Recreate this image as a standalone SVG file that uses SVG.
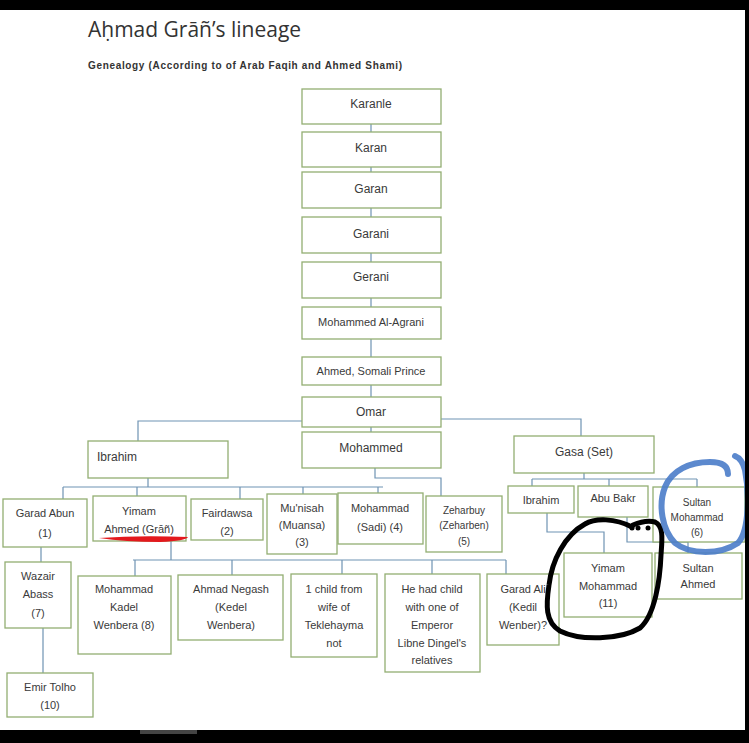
<svg xmlns="http://www.w3.org/2000/svg" width="749" height="743" viewBox="0 0 749 743">
<style>
.b{fill:#fff;stroke:#93ae72;stroke-width:1.3}
.t{font-family:"Liberation Sans",Arial,sans-serif;font-size:11px;fill:#3a3a3a;text-anchor:middle}
.c{font-size:12px}
.s{font-size:10px}
.l{fill:none;stroke:#6f93b3;stroke-width:1.2}
</style>
<rect x="0" y="0" width="749" height="743" fill="#fff"/>
<text x="88" y="37" font-family="Open Sans, Liberation Sans, sans-serif" font-size="21" fill="#333">Aḥmad Grāñ’s lineage</text>
<text x="88" y="69" font-family="Liberation Sans, Arial, sans-serif" font-size="10" font-weight="bold" fill="#333" textLength="314">Genealogy (According to of Arab Faqih and Ahmed Shami)</text>

<g id="connectors" class="l">
<path d="M371 122V135M371 165V175M371 206V220M371 251V264M371 296V309M371 338V359M371 384V399M371 425V443"/>
<path d="M302 421H138V441M441 419H581V436"/>
<path d="M148 478V487M63 487H383M63 487V499M137 487V496M240 487V499M303 487V494M378 487V493"/>
<path d="M375 468V478H441V496"/>
<path d="M584 473V479M532 479H697M532 479V486M609 479V490M697 479V487"/>
<path d="M547 513V532H604V553M627 517V542H688V553"/>
<path d="M41 547V562M43 628V673"/>
<path d="M171 541V560M133 560H506M135 560V576M232 560V576M342 560V574M432 560V574M506 560V574"/>
</g>

<g id="karanle"><rect class="b" x="302" y="89" width="139" height="35"/><text class="t c" x="371" y="108">Karanle</text></g>
<g id="karan"><rect class="b" x="302" y="132" width="139" height="35"/><text class="t c" x="371" y="152">Karan</text></g>
<g id="garan"><rect class="b" x="302" y="172" width="139" height="36"/><text class="t c" x="371" y="193">Garan</text></g>
<g id="garani"><rect class="b" x="302" y="217" width="139" height="36"/><text class="t c" x="371" y="238">Garani</text></g>
<g id="gerani"><rect class="b" x="302" y="262" width="139" height="36"/><text class="t c" x="371" y="281">Gerani</text></g>
<g id="mohammed-al-agrani"><rect class="b" x="302" y="307" width="139" height="32"/><text class="t" x="371" y="326">Mohammed Al-Agrani</text></g>
<g id="ahmed-somali-prince"><rect class="b" x="302" y="357" width="139" height="28"/><text class="t" x="371" y="375">Ahmed, Somali Prince</text></g>
<g id="omar"><rect class="b" x="302" y="397" width="139" height="30"/><text class="t c" x="371" y="416">Omar</text></g>
<g id="mohammed"><rect class="b" x="302" y="432" width="139" height="36"/><text class="t c" x="371" y="452">Mohammed</text></g>

<g id="ibrahim"><rect class="b" x="88" y="441" width="140" height="37"/><text class="t c" x="97" y="461" style="text-anchor:start">Ibrahim</text></g>
<g id="gasa"><rect class="b" x="514" y="436" width="140" height="37"/><text class="t c" x="584" y="456">Gasa (Set)</text></g>

<g id="garad-abun"><rect class="b" x="3" y="499" width="84" height="48"/><text class="t" x="45" y="517">Garad Abun</text><text class="t" x="45" y="537">(1)</text></g>
<g id="yimam-ahmed"><rect class="b" x="93" y="496" width="93" height="45"/><text class="t" x="139" y="515">Yimam</text><text class="t" x="139" y="533">Ahmed (Grāñ)</text></g>
<g id="fairdawsa"><rect class="b" x="191" y="499" width="72" height="41"/><text class="t" x="227" y="517">Fairdawsa</text><text class="t" x="227" y="535">(2)</text></g>
<g id="munisah"><rect class="b" x="267" y="494" width="70" height="60"/><text class="t" x="302" y="512">Mu'nisah</text><text class="t" x="302" y="529">(Muansa)</text><text class="t" x="302" y="546">(3)</text></g>
<g id="mohammad-sadi"><rect class="b" x="338" y="493" width="85" height="51"/><text class="t" x="380" y="512">Mohammad</text><text class="t" x="380" y="531">(Sadi) (4)</text></g>
<g id="zeharbuy"><rect class="b" x="426" y="496" width="76" height="56"/><text class="t s" x="464" y="514">Zeharbuy</text><text class="t s" x="464" y="529">(Zeharben)</text><text class="t s" x="464" y="545">(5)</text></g>

<g id="ibrahim-gasa"><rect class="b" x="508" y="486" width="66" height="27"/><text class="t" x="541" y="504">Ibrahim</text></g>
<g id="abu-bakr"><rect class="b" x="578" y="486" width="70" height="31"/><text class="t" x="613" y="502">Abu Bakr</text></g>
<g id="sultan-mohammad"><rect class="b" x="653" y="487" width="92" height="55"/><text class="t s" x="697" y="506">Sultan</text><text class="t s" x="697" y="521">Mohammad</text><text class="t s" x="697" y="536">(6)</text></g>

<g id="wazair-abass"><rect class="b" x="5" y="562" width="66" height="66"/><text class="t" x="38" y="580">Wazair</text><text class="t" x="38" y="598">Abass</text><text class="t" x="38" y="617">(7)</text></g>
<g id="emir-tolho"><rect class="b" x="7" y="673" width="86" height="44"/><text class="t" x="50" y="691">Emir Tolho</text><text class="t" x="50" y="709">(10)</text></g>

<g id="mohammad-kadel"><rect class="b" x="78" y="576" width="93" height="78"/><text class="t" x="124" y="593">Mohammad</text><text class="t" x="124" y="611">Kadel</text><text class="t" x="124" y="629">Wenbera (8)</text></g>
<g id="ahmad-negash"><rect class="b" x="178" y="575" width="105" height="65"/><text class="t" x="231" y="593">Ahmad Negash</text><text class="t" x="231" y="611">(Kedel</text><text class="t" x="231" y="629">Wenbera)</text></g>
<g id="one-child"><rect class="b" x="291" y="574" width="86" height="83"/><text class="t" x="334" y="593">1 child from</text><text class="t" x="334" y="611">wife of</text><text class="t" x="334" y="629">Teklehayma</text><text class="t" x="334" y="647">not</text></g>
<g id="he-had-child"><rect class="b" x="385" y="574" width="95" height="98"/><text class="t" x="432" y="593">He had child</text><text class="t" x="432" y="611">with one of</text><text class="t" x="432" y="629">Emperor</text><text class="t" x="432" y="647">Libne Dingel's</text><text class="t" x="432" y="664">relatives</text></g>
<g id="garad-ali"><rect class="b" x="487" y="574" width="72" height="71"/><text class="t" x="523" y="593">Garad Ali</text><text class="t" x="523" y="611">(Kedil</text><text class="t" x="523" y="629">Wenber)?</text></g>

<g id="yimam-mohammad"><rect class="b" x="564" y="553" width="88" height="64"/><text class="t" x="608" y="572">Yimam</text><text class="t" x="608" y="590">Mohammad</text><text class="t" x="608" y="607">(11)</text></g>
<g id="sultan-ahmed"><rect class="b" x="655" y="553" width="87" height="46"/><text class="t" x="698" y="572">Sultan</text><text class="t" x="698" y="588">Ahmed</text></g>

<path d="M99 538Q140 535 188 537Q186 541 160 542Q125 542 99 538Z" fill="#e3191d"/>
<path d="M632 527C615 518 595 518 585 524C565 535 552 560 549 585C546 605 545 622 560 631C580 641 620 640 640 628C655 615 660 580 661 555C662 540 664 526 655 522C648 520 640 522 633 525" fill="none" stroke="#000" stroke-width="5" stroke-linecap="round"/>
<circle cx="632" cy="528" r="2.5"/><circle cx="638" cy="528" r="2.5"/><circle cx="648" cy="528" r="2.5"/>
<path d="M728 474C728 466 722 462 710 462C690 462 672 470 665 487C658 505 662 530 675 543C690 555 720 555 738 543C750 530 749 490 745 470C743 462 740 458 735 456" fill="none" stroke="#4a7cc9" stroke-width="6" stroke-linecap="round" opacity="0.9"/>

<rect x="0" y="0" width="749" height="10" fill="#000"/>
<rect x="745" y="0" width="4" height="743" fill="#000"/>
<rect x="0" y="730" width="749" height="13" fill="#000"/>
<rect x="140" y="730" width="57" height="4" fill="#444"/>
</svg>
